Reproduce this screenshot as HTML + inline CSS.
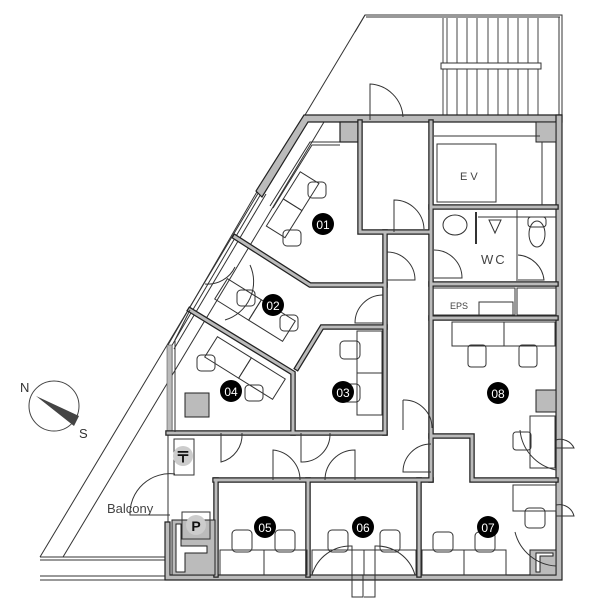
<!DOCTYPE html>
<html><head><meta charset="utf-8"><style>
html,body{margin:0;padding:0;background:#fff;width:600px;height:600px;overflow:hidden}
svg{display:block}
text{font-family:"Liberation Sans",sans-serif}
</style></head><body>
<svg width="600" height="600" viewBox="0 0 600 600" xmlns="http://www.w3.org/2000/svg">
<g fill="none" stroke="#333" stroke-width="1">
<line x1="365" y1="15" x2="40" y2="557"/>
<line x1="327" y1="117" x2="63" y2="557"/>
<line x1="40" y1="557" x2="168" y2="557"/><line x1="40" y1="560" x2="168" y2="560"/>
<line x1="40" y1="576" x2="168" y2="576"/><line x1="40" y1="580" x2="168" y2="580"/>
<polyline points="355,32 365,15 562,15 562,115"/>
<line x1="366" y1="17" x2="560" y2="17"/>
<line x1="559" y1="17" x2="559" y2="115"/>
<g stroke="#444">
<line x1="443" y1="18" x2="443" y2="115"/><line x1="447" y1="18" x2="447" y2="115"/>
<line x1="457" y1="18" x2="457" y2="115"/><line x1="467" y1="18" x2="467" y2="115"/>
<line x1="477" y1="18" x2="477" y2="115"/><line x1="488" y1="18" x2="488" y2="115"/>
<line x1="498" y1="18" x2="498" y2="115"/><line x1="508" y1="18" x2="508" y2="115"/>
<line x1="518" y1="18" x2="518" y2="115"/><line x1="528" y1="18" x2="528" y2="115"/>
<line x1="538" y1="18" x2="538" y2="115"/>
</g>
<rect x="441" y="63" width="100" height="6" fill="#fff"/>
<line x1="258" y1="190" x2="168" y2="345"/>
<line x1="262" y1="192" x2="171" y2="347"/>
<line x1="266" y1="194" x2="174" y2="349"/>
<line x1="168" y1="345" x2="168" y2="575"/>
<line x1="172" y1="345" x2="172" y2="432"/>
<!-- inner double line room 01 -->
<polyline points="340,142 310,142 270,206"/>
<polyline points="340,145 312,145 273,208"/>
</g>
<rect x="167" y="345" width="5" height="88" fill="#bbb" stroke="#555" stroke-width="0.6"/>

<g fill="#bbb" stroke="#222" stroke-width="1.2" stroke-linejoin="miter">
<path d="M304,115 L562,115 L562,122 L308,122 L262,197 L256,191 Z"/>
<path d="M556,115 H562 V580 H165 V522 H170 V575 H556 Z"/>
<rect x="340" y="122" width="20" height="20"/>
</g>
<g fill="none" stroke="#222" stroke-width="5.5" stroke-linecap="square" stroke-linejoin="miter">
<path d="M360,122 V232 H430"/>
<path d="M385,232 V433"/>
<path d="M431,122 V480"/>
<path d="M235,237 L310,285 H385"/>
<path d="M190,310 L293,373 V433"/>
<path d="M385,327 H322 L297,368"/>
<path d="M168,433 H385"/>
<path d="M215,480 H431"/>
<path d="M216,480 V575"/><path d="M308,480 V575"/><path d="M419,480 V575"/>
<path d="M431,436 H472 V480 H556"/>
<path d="M431,318 H556"/>
<path d="M431,207 H556"/>
<path d="M431,284 H556"/>
</g>
<g fill="none" stroke="#bbb" stroke-width="3" stroke-linecap="square" stroke-linejoin="miter">
<path d="M360,122 V232 H430"/>
<path d="M385,232 V433"/>
<path d="M431,122 V480"/>
<path d="M235,237 L310,285 H385"/>
<path d="M190,310 L293,373 V433"/>
<path d="M385,327 H322 L297,368"/>
<path d="M168,433 H385"/>
<path d="M215,480 H431"/>
<path d="M216,480 V575"/><path d="M308,480 V575"/><path d="M419,480 V575"/>
<path d="M431,436 H472 V480 H556"/>
<path d="M431,318 H556"/>
<path d="M431,207 H556"/>
<path d="M431,284 H556"/>
</g>
<g fill="#bbb" stroke="#222" stroke-width="1">
<rect x="536" y="122" width="20" height="20"/>
<rect x="536" y="390" width="20" height="22"/>
<path d="M530,550 H556 V575 H530 Z"/>
<path d="M172,520 H215 V575 H172 Z"/>
<rect x="185" y="393" width="24" height="24"/>
</g>
<g fill="#fff" stroke="#222" stroke-width="1">
<path d="M536,553 H553 V556 H540 V572 H536 Z"/>
<path d="M176,524 V572 H185 V553 H207 V546 H181 V524 Z"/>
</g>

<g fill="none" stroke="#333" stroke-width="1">
<line x1="434" y1="136" x2="540" y2="136"/>
<rect x="437" y="144" width="59" height="58"/>
<line x1="542" y1="142" x2="542" y2="205"/>
<rect x="433" y="288" width="82" height="27"/>
<rect x="479" y="302" width="34" height="13"/>
<rect x="517" y="288" width="39" height="27"/>
<line x1="476" y1="212" x2="476" y2="244" stroke-width="2"/>
<line x1="517" y1="210" x2="517" y2="281"/>
<line x1="478" y1="217" x2="556" y2="217"/>
<ellipse cx="455" cy="225" rx="12" ry="10"/>
<path d="M489,220 L501,220 L495,233 Z"/>
<rect x="528" y="217" width="18" height="10" rx="3"/>
<ellipse cx="537" cy="234" rx="8" ry="13"/>
<path d="M434,250 A28,28 0 0 1 462,278 H434"/>
<path d="M518,255 A28,28 0 0 1 544,280 H518"/>
<path d="M370,120 V84 A35,35 0 0 1 403,117"/>
<path d="M394,232 V200 A30,30 0 0 1 424,229"/>
<path d="M387,252 A28,28 0 0 1 415,280 H387"/>
<path d="M383,295 A28,28 0 0 0 355,323 H383"/>
<path d="M403,400 V430 M403,400 A28,28 0 0 1 432,428"/>
<path d="M431,444 A28,28 0 0 0 403,472 H431"/>
<path d="M221,433 V462 A28,28 0 0 0 242,433"/>
<path d="M301,433 V462 A28,28 0 0 0 330,433"/>
<path d="M273,480 V450 A30,30 0 0 1 300,480"/>
<path d="M355,480 V450 A30,30 0 0 0 325,480"/>
<path d="M175,474 A40,40 0 0 0 130,515 H170"/>
<path d="M312,575 A40,40 0 0 1 352,546 V597 H363 V575"/>
<path d="M415,575 A40,40 0 0 0 375,546 V597 H364"/>
<path d="M515,532 A45,45 0 0 0 556,566"/>
<path d="M556,505 A15,15 0 0 1 574,516 H556"/>
<path d="M556,440 A15,15 0 0 1 574,448 H556"/>
<path d="M520,430 A45,45 0 0 0 556,470"/>
<path d="M235,267 A30,30 0 0 1 205,284"/>
<path d="M250,265 A40,40 0 0 1 225,320"/>
<rect x="452" y="322" width="52" height="24"/><rect x="504" y="322" width="51" height="24"/>
<rect x="468" y="345" width="18" height="22" rx="3"/><rect x="519" y="345" width="18" height="22" rx="3"/>
<rect x="530" y="416" width="25" height="52"/><rect x="513" y="432" width="18" height="18" rx="3"/>
<rect x="422" y="550" width="42" height="25"/><rect x="464" y="550" width="42" height="25"/>
<rect x="433" y="532" width="20" height="20" rx="4"/><rect x="475" y="532" width="20" height="20" rx="4"/>
<rect x="513" y="485" width="43" height="26"/><rect x="525" y="508" width="20" height="20" rx="4"/>
<rect x="312" y="550" width="52" height="25"/><rect x="364" y="550" width="52" height="25"/>
<rect x="328" y="530" width="20" height="22" rx="4"/><rect x="380" y="530" width="20" height="22" rx="4"/>
<rect x="220" y="550" width="44" height="25"/><rect x="264" y="550" width="43" height="25"/>
<rect x="232" y="530" width="20" height="22" rx="4"/><rect x="275" y="530" width="20" height="22" rx="4"/>
<rect x="357" y="331" width="25" height="42"/><rect x="357" y="373" width="25" height="42"/>
<rect x="340" y="341" width="20" height="18" rx="4"/><rect x="340" y="384" width="20" height="18" rx="4"/>
<!-- 01 desks: strip along facade, rotated -->
<g transform="translate(285,200) rotate(-58)"><rect x="-32" y="-2" width="32" height="22"/><rect x="0" y="-2" width="32" height="22"/><rect x="-40" y="-22" width="40" height="20" stroke="none"/></g>
<rect x="308" y="182" width="18" height="16" rx="4"/><rect x="283" y="230" width="18" height="16" rx="4"/>
<g transform="translate(255,310) rotate(32)"><rect x="-40" y="-12" width="40" height="24"/><rect x="0" y="-12" width="40" height="24"/></g>
<rect x="237" y="290" width="18" height="16" rx="4"/><rect x="280" y="315" width="18" height="16" rx="4"/>
<g transform="translate(245,368) rotate(32)"><rect x="-40" y="-12" width="40" height="24"/><rect x="0" y="-12" width="40" height="24"/></g>
<rect x="197" y="355" width="18" height="16" rx="4"/><rect x="245" y="385" width="18" height="16" rx="4"/>
<polyline points="190,310 175,340 175,432"/>
<rect x="174" y="439" width="20" height="36"/>
<rect x="182" y="512" width="28" height="27"/>
</g>

<g font-size="12" fill="#fff" text-anchor="middle">
<circle cx="323" cy="224" r="11" fill="#000"/><text x="323" y="229">01</text>
<circle cx="273" cy="305" r="11" fill="#000"/><text x="273" y="310">02</text>
<circle cx="343" cy="392" r="11" fill="#000"/><text x="343" y="397">03</text>
<circle cx="231" cy="391" r="11" fill="#000"/><text x="231" y="396">04</text>
<circle cx="265" cy="527" r="11" fill="#000"/><text x="265" y="532">05</text>
<circle cx="363" cy="527" r="11" fill="#000"/><text x="363" y="532">06</text>
<circle cx="488" cy="527" r="11" fill="#000"/><text x="488" y="532">07</text>
<circle cx="498" cy="393" r="11" fill="#000"/><text x="498" y="398">08</text>
</g>
<g fill="#444" font-size="11">
<text x="460" y="180" letter-spacing="3">EV</text>
<text x="481" y="264" font-size="13" letter-spacing="2">WC</text>
<text x="450" y="309" font-size="9">EPS</text>
<text x="107" y="513" font-size="13">Balcony</text>
</g>
<circle cx="183" cy="456" r="10" fill="#ccc"/>
<text x="183" y="462" font-size="15" font-weight="bold" text-anchor="middle" fill="#111">〒</text>
<circle cx="196" cy="525" r="10" fill="#ccc"/>
<text x="196" y="531" font-size="14" font-weight="bold" text-anchor="middle" fill="#111">P</text>
<circle cx="54" cy="406" r="25" fill="none" stroke="#444"/>
<path d="M36,396 L79,416 L74,426 Z" fill="#444"/>
<text x="20" y="392" font-size="13" fill="#333">N</text>
<text x="79" y="438" font-size="13" fill="#333">S</text>
</svg>
</body></html>
